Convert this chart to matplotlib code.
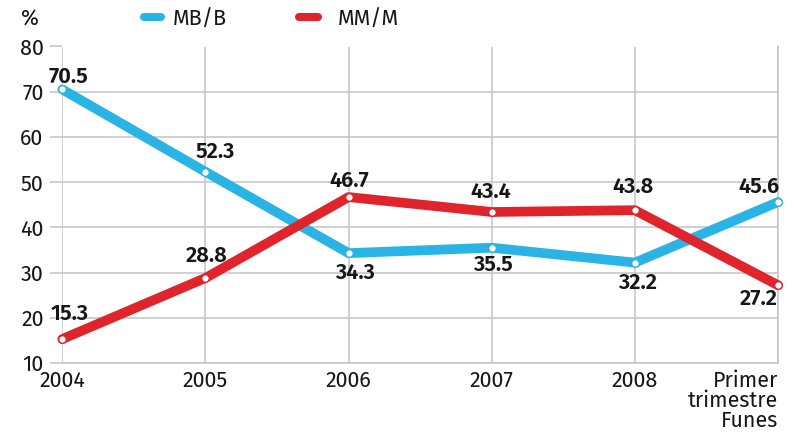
import matplotlib
matplotlib.use("Agg")
import matplotlib.pyplot as plt
from matplotlib.transforms import ScaledTranslation

categories = ["2004", "2005", "2006", "2007", "2008", "Primer\ntrimestre\nFunes"]
mbb = [70.5, 52.3, 34.3, 35.5, 32.2, 45.6]
mmm = [15.3, 28.8, 46.7, 43.4, 43.8, 27.2]
yticks = [10, 20, 30, 40, 50, 60, 70, 80]

plt.rcParams["font.family"] = ["Fira Sans", "DejaVu Sans"]

blue = "#2ab4e6"
red = "#e0242b"
grid = "#c4c4c4"
ink = "#161616"

fig = plt.figure(figsize=(7.94, 4.33), dpi=100)
ax = fig.add_axes([62.3 / 794, 1 - 363 / 433, (778 - 62.3) / 794, (363 - 46.5) / 433])
x = list(range(len(categories)))

for ys, c in ((mbb, blue), (mmm, red)):
    ax.plot(x, ys, color=c, lw=7, solid_capstyle="round", solid_joinstyle="round",
            zorder=3, marker="o", ms=5.5, mfc="white", mec=c, mew=1.0, clip_on=False)

ax.set_xlim(0, 5)
ax.set_ylim(10, 80)
ax.set_yticks(yticks)
ax.set_xticks(x)
ax.set_xticklabels(categories, fontsize=15.5, linespacing=0.93, color=ink)
labs = ax.get_xticklabels()
labs[-1].set_ha("right")
labs[-1].set_multialignment("right")
labs[-1].set_transform(labs[-1].get_transform() + ScaledTranslation(0.01, 0, fig.dpi_scale_trans))
labs[0].set_transform(labs[0].get_transform() + ScaledTranslation(0.07, 0, fig.dpi_scale_trans))
ax.tick_params(axis="y", labelsize=15.5, length=8.5, color=grid, width=1.1, pad=5, labelcolor=ink)
ax.tick_params(axis="x", length=0, pad=5)
ax.grid(True, color=grid, lw=1.1)
ax.set_axisbelow(True)
for s in ["top", "left"]:
    ax.spines[s].set_visible(False)
for s in ["bottom", "right"]:
    ax.spines[s].set_color(grid)
    ax.spines[s].set_linewidth(1.1)

DH = 15  # digit height in pixels
# (dx px, gap px, above?)
mb_pos = [(6, 7, True), (10, 14, True), (6, 11, False), (1, 8, False), (3, 11, False), (-19, 9, True)]
mm_pos = [(7, 19, True), (1, 16, True), (1, 10, True), (-1, 14, True), (-2, 17, True), (-19, 5, False)]
for series, pos in ((mbb, mb_pos), (mmm, mm_pos)):
    for i, (v, (dx, gap, above)) in enumerate(zip(series, pos)):
        dy = gap if above else -(gap + DH)
        ax.annotate(f"{v:.1f}", (i, v), xytext=(dx, dy), textcoords="offset pixels",
                    ha="center", va="baseline", fontsize=15.8, fontweight="semibold",
                    color=ink, zorder=5, annotation_clip=False)

fig.text(21 / 794, 1 - 26 / 433, "%", fontsize=15.5, va="baseline", ha="left", color=ink)
# legend
fig.add_artist(plt.Line2D([144 / 794, 161 / 794], [1 - 17 / 433] * 2, color=blue,
                          lw=5.8, solid_capstyle="round", transform=fig.transFigure))
fig.text(173 / 794, 1 - 26 / 433, "MB/B", fontsize=15.5, va="baseline", ha="left", color=ink)
fig.add_artist(plt.Line2D([299 / 794, 318 / 794], [1 - 17 / 433] * 2, color=red,
                          lw=5.8, solid_capstyle="round", transform=fig.transFigure))
fig.text(338 / 794, 1 - 26 / 433, "MM/M", fontsize=15.5, va="baseline", ha="left", color=ink)

fig.savefig("out.png", dpi=100)
